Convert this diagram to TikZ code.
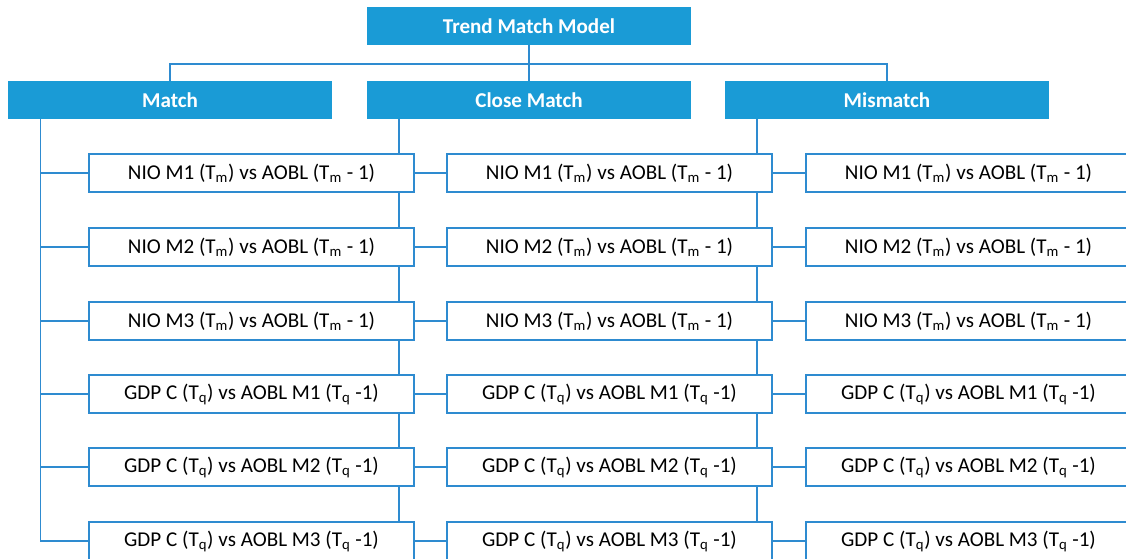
\documentclass[tikz,border=0pt]{standalone}
\usepackage{fontspec}
\setmainfont{Carlito}
\usepackage{tikz}
\usetikzlibrary{calc, positioning}
\usetikzlibrary{backgrounds}
\definecolor{hdrblue}{RGB}{26,155,214}
\definecolor{lineblue}{RGB}{46,139,208}
\tikzset{
    auto, node distance =1.1 cm and 1.1 cm,
    hdr/.style={rectangle, fill=hdrblue, text=white, font=\fontsize{15}{18}\selectfont\bfseries, minimum width=8.1cm, minimum height=0.95cm, inner sep=0pt},
    itembox/.style={rectangle, draw=lineblue, line width=1.3pt, fill=white, font=\fontsize{15}{18}\selectfont, minimum width=8.12cm, minimum height=0.95cm, inner sep=0pt},
    conn/.style={draw=lineblue, line width=1pt},
}

\begin{document}
\begin{tikzpicture}[x=0.025cm, y=0.025cm]
    \useasboundingbox (0,0) rectangle (1126,559);
    \clip (0,0) rectangle (1126,559);
    % headers
    \node[hdr] (top) at (529,533) {Trend Match Model};
    \node[hdr] (match) at (170,459) {Match};
    \node[hdr] (close) at (529,459) {Close Match};
    \node[hdr] (mismatch) at (887,459) {Mismatch};
    \coordinate (bus) at (529,495);

    % item boxes, one column per category
    \foreach \c/\x in {1/251.5, 2/609.5, 3/968.5} {
        \node[itembox] (i-\c-1) at (\x,386) {NIO M1 (T\textsubscript{m}) vs AOBL (T\textsubscript{m} - 1)};
        \node[itembox] (i-\c-2) at (\x,312) {NIO M2 (T\textsubscript{m}) vs AOBL (T\textsubscript{m} - 1)};
        \node[itembox] (i-\c-3) at (\x,238) {NIO M3 (T\textsubscript{m}) vs AOBL (T\textsubscript{m} - 1)};
        \node[itembox] (i-\c-4) at (\x,165) {GDP C (T\textsubscript{q}) vs AOBL M1 (T\textsubscript{q} -1)};
        \node[itembox] (i-\c-5) at (\x,92) {GDP C (T\textsubscript{q}) vs AOBL M2 (T\textsubscript{q} -1)};
        \node[itembox] (i-\c-6) at (\x,18) {GDP C (T\textsubscript{q}) vs AOBL M3 (T\textsubscript{q} -1)};
    }

    % trunk tops under each header
    \coordinate (t-1) at (40.7,440);
    \coordinate (t-2) at (399,440);
    \coordinate (t-3) at (757,440);

    \begin{pgfonlayer}{background}
        \draw[conn] (top) -- (close);
        \draw[conn] (match.north) |- (bus) -| (mismatch.north);
        \foreach \c in {1,2,3} {
            \foreach \r in {1,...,6} {
                \draw[conn] (t-\c) |- (i-\c-\r.west);
            }
        }
    \end{pgfonlayer}
\end{tikzpicture}
\end{document}
